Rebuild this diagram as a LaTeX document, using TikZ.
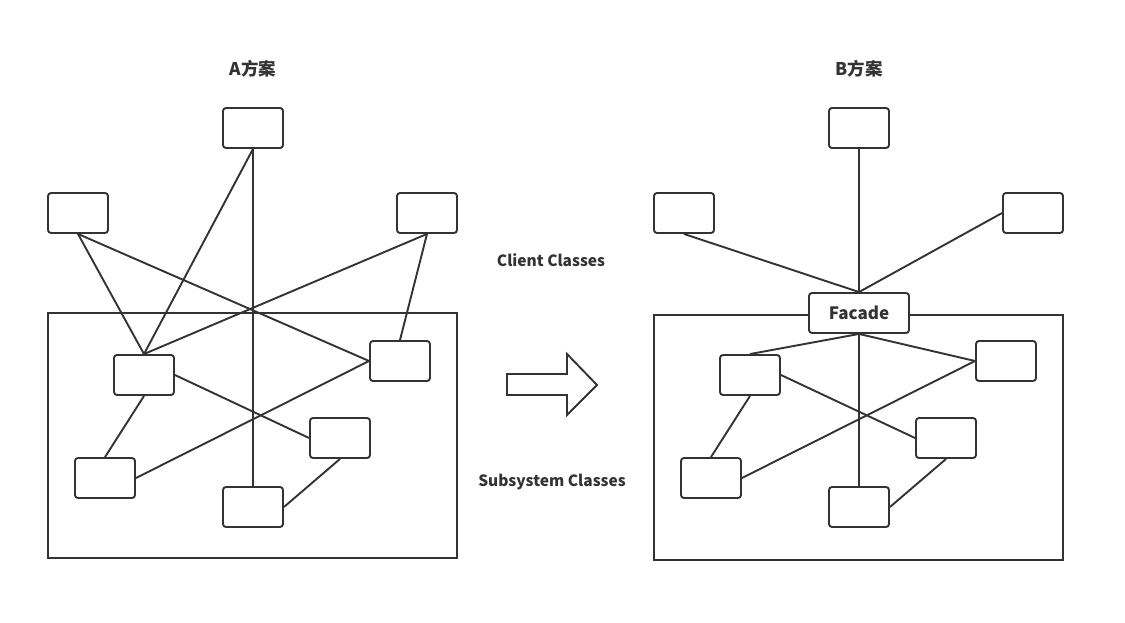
\documentclass[tikz,border=0pt]{standalone}
\usepackage{fontspec}
\setmainfont{Noto Sans CJK SC}
\definecolor{ink}{HTML}{333333}
\tikzset{
  cls/.style={draw=ink, line width=1.9pt, fill=white, rounded corners=3pt, minimum width=60pt, minimum height=40pt, inner sep=0pt},
  sub/.style={draw=ink, line width=1.9pt, inner sep=0pt},
  link/.style={draw=ink, line width=1.9pt},
  lbl/.style={text=ink, font=\bfseries\fontsize{15.5}{17}\selectfont, inner sep=0pt},
  ttl/.style={text=ink, font=\bfseries\fontsize{17.5}{19}\selectfont, inner sep=0pt},
}
\begin{document}
\begin{tikzpicture}[x=1pt,y=-1pt]
\useasboundingbox (0,0) rectangle (1125,622);
% ---------- A ----------
\node[ttl] (titleA) at (253,69) {A方案};
\node[sub, minimum width=409pt, minimum height=245pt] (subA) at (252.5,435.5) {};
\node[cls] (topA) at (253,128) {};
\node[cls] (leftA) at (78,213) {};
\node[cls] (rightA) at (427,213) {};
\node[cls] (a1) at (144,375) {};
\node[cls] (a2) at (400,361) {};
\node[cls] (a3) at (340,438) {};
\node[cls] (a4) at (105,478) {};
\node[cls] (a5) at (253,507) {};
\draw[link] (topA.south) -- (a1.north);
\draw[link] (topA.south) -- (a5.north);
\draw[link] (leftA.south) -- (a1.north);
\draw[link] (leftA.south) -- (a2.west);
\draw[link] (rightA.south) -- (a1.north);
\draw[link] (rightA.south) -- (a2.north);
\draw[link] (a1.east) -- (a3.west);
\draw[link] (a1.south) -- (a4.north);
\draw[link] (a2.west) -- (a4.east);
\draw[link] (a3.south) -- (a5.east);
% ---------- middle ----------
\node[lbl] (client) at (551,260) {Client Classes};
\node[lbl] (subsys) at (552,482) {Subsystem Classes};
\draw[link] (507,374) -- (567,374) -- (567,354) -- (597,385) -- (567,415) -- (567,395) -- (507,395) -- cycle;
% ---------- B ----------
\node[ttl] (titleB) at (859,69) {B方案};
\node[sub, minimum width=409pt, minimum height=245pt] (subB) at (858.5,437.5) {};
\node[cls] (topB) at (859,128) {};
\node[cls] (leftB) at (684,213) {};
\node[cls] (rightB) at (1033,213) {};
\node[cls, minimum width=100pt, font=\bfseries\fontsize{17}{19}\selectfont, text=ink] (facade) at (859,313) {Facade};
\node[cls] (b1) at (750,375) {};
\node[cls] (b2) at (1006,361) {};
\node[cls] (b3) at (946,438) {};
\node[cls] (b4) at (711,478) {};
\node[cls] (b5) at (859,507) {};
\draw[link] (topB.south) -- (facade.north);
\draw[link] (leftB.south) -- (facade.north);
\draw[link] (rightB.west) -- (facade.north);
\draw[link] (facade.south) -- (b1.north);
\draw[link] (facade.south) -- (b5.north);
\draw[link] (facade.south) -- (b2.west);
\draw[link] (b1.east) -- (b3.west);
\draw[link] (b1.south) -- (b4.north);
\draw[link] (b2.west) -- (b4.east);
\draw[link] (b3.south) -- (b5.east);
\end{tikzpicture}
\end{document}
